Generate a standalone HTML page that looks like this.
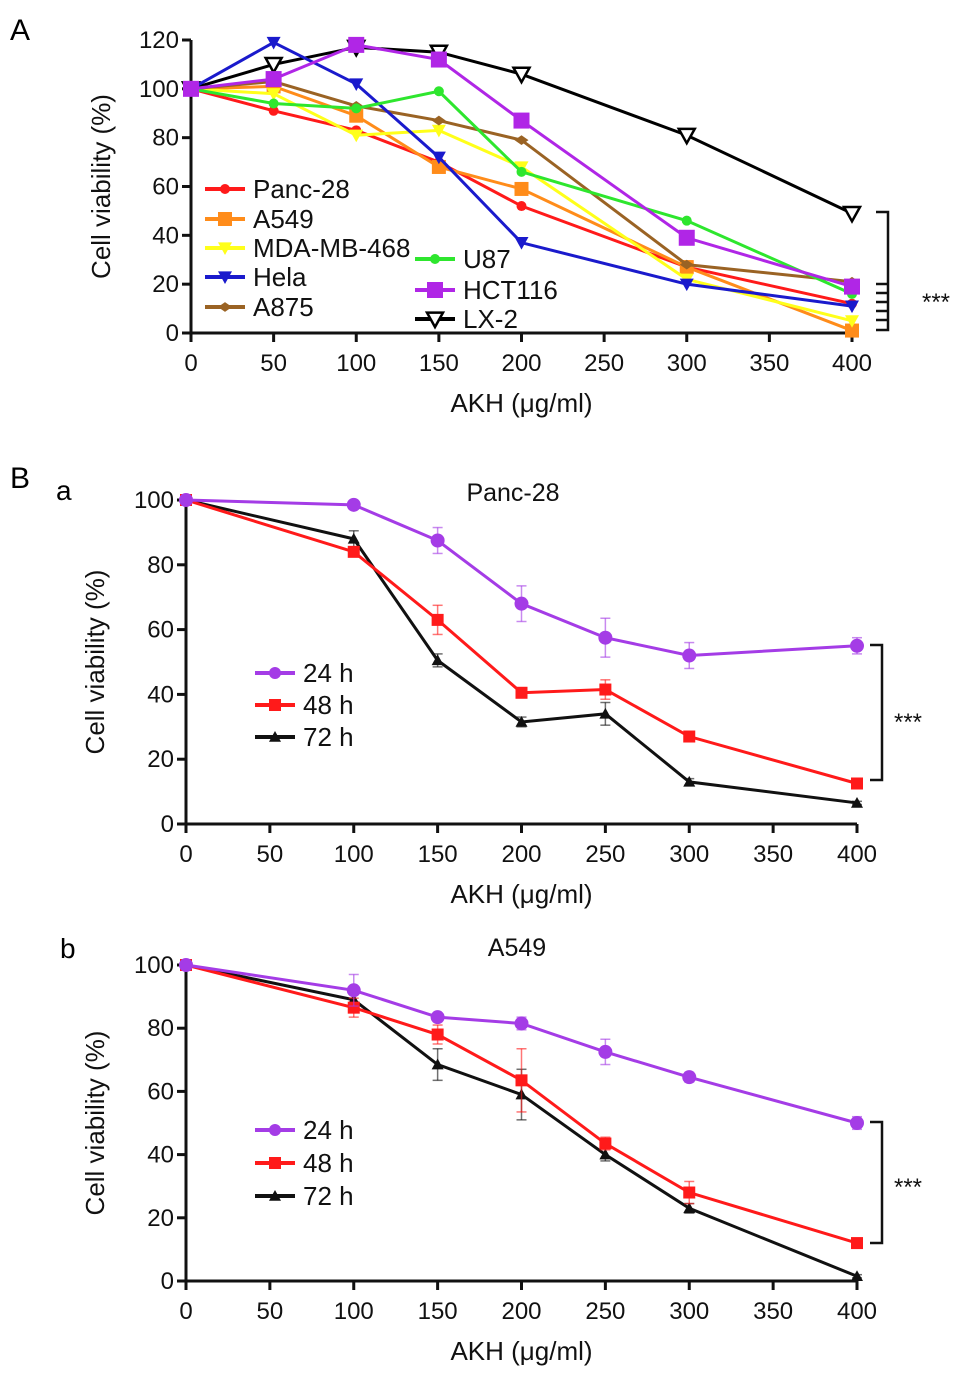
<!DOCTYPE html>
<html><head><meta charset="utf-8">
<style>
body{margin:0;background:#fff;}
svg{display:block;font-family:"Liberation Sans",Arial,sans-serif;}
</style></head>
<body>
<svg id="fig" width="969" height="1388" viewBox="0 0 969 1388" xmlns="http://www.w3.org/2000/svg">
<text x="10" y="40" font-size="30">A</text>
<text x="10" y="488" font-size="30">B</text>
<text x="56" y="500" font-size="28">a</text>
<text x="60" y="958" font-size="28">b</text>
</svg>
<script>
// ---- Panel A data ----
const xA = [0, 50, 100, 150, 200, 300, 400];
const seriesNamesA = ["Panc-28","A549","MDA-MB-468","Hela","A875","U87","HCT116","LX-2"];
const panc28A = [100, 91, 83, 70, 52, 27, 12];
const a549A   = [100, 101, 89, 68, 59, 27, 1];
const mdaA    = [100, 98, 81, 83, 68, 22, 5];
const helaA   = [100, 119, 102, 72, 37, 20, 11];
const a875A   = [100, 103, 93, 87, 79, 28, 21];
const u87A    = [100, 94, 92, 99, 66, 46, 16];
const hct116A = [100, 104, 118, 112, 87, 39, 19];
const lx2A    = [100, 110, 117, 115, 106, 81, 49];
const yTicksA = [0, 20, 40, 60, 80, 100, 120];
const xTicks = [0, 50, 100, 150, 200, 250, 300, 350, 400];
// ---- Panel B data ----
const xB = [0, 100, 150, 200, 250, 300, 400];
const timeLabels = ["24 h","48 h","72 h"];
const panc24 = [100, 98.5, 87.5, 68, 57.5, 52, 55];
const panc48 = [100, 84, 63, 40.5, 41.5, 27, 12.5];
const panc72 = [100, 88, 50.5, 31.5, 34, 13, 6.5];
const panc24Err = [0, 1, 4, 5.5, 6, 4, 2.5];
const panc48Err = [0, 1.5, 4.5, 1, 3, 1, 1];
const panc72Err = [0, 2.5, 2, 1.5, 3.5, 1, 0.5];
const a549_24 = [100, 92, 83.5, 81.5, 72.5, 64.5, 50];
const a549_48 = [100, 86.5, 78, 63.5, 43.5, 28, 12];
const a549_72 = [100, 89, 68.5, 59, 40, 23, 1.5];
const a549_24Err = [0, 5, 1, 2, 4, 1.5, 2];
const a549_48Err = [0, 3, 3, 10, 2, 3.5, 1];
const a549_72Err = [0, 2.5, 5, 8, 2, 1.5, 0.5];
const yTicksB = [0, 20, 40, 60, 80, 100];

const NS = "http://www.w3.org/2000/svg";
const svg = document.getElementById("fig");
function el(tag, attrs, parent){
  const e = document.createElementNS(NS, tag);
  for (const k in attrs) e.setAttribute(k, attrs[k]);
  (parent||svg).appendChild(e);
  return e;
}
function marker(g, shape, cx, cy, color, s){
  let m;
  if (shape==="circle") m = el("circle",{cx:cx,cy:cy,r:s,fill:color},g);
  else if (shape==="square") m = el("rect",{x:cx-s,y:cy-s,width:2*s,height:2*s,fill:color},g);
  else if (shape==="tridown") m = el("polygon",{points:`${cx-s},${cy-s*0.8} ${cx+s},${cy-s*0.8} ${cx},${cy+s}`,fill:color},g);
  else if (shape==="triup") m = el("polygon",{points:`${cx-s},${cy+s*0.8} ${cx+s},${cy+s*0.8} ${cx},${cy-s}`,fill:color},g);
  else if (shape==="diamond") m = el("polygon",{points:`${cx-s},${cy} ${cx},${cy-s*0.7} ${cx+s},${cy} ${cx},${cy+s*0.7}`,fill:color},g);
  else if (shape==="opentri") m = el("polygon",{points:`${cx-s},${cy-s*0.8} ${cx+s},${cy-s*0.8} ${cx},${cy+s}`,fill:"#fff",stroke:color,"stroke-width":2.5},g);
  return m;
}
function axes(cfg){
  const g = el("g",{});
  
  
  el("line",{x1:cfg.x0,y1:cfg.sy(cfg.yMax),x2:cfg.x0,y2:cfg.sy(0)+2,stroke:"#111","stroke-width":3},g);
  el("line",{x1:cfg.x0-2,y1:cfg.sy(0),x2:cfg.sx(400),y2:cfg.sy(0),stroke:"#111","stroke-width":3},g);
  cfg.yTicks.forEach(v=>{
    el("line",{x1:cfg.x0-9,y1:cfg.sy(v),x2:cfg.x0,y2:cfg.sy(v),stroke:"#111","stroke-width":3},g);
    const t = el("text",{x:cfg.x0-12,y:cfg.sy(v)+8,"font-size":24,"text-anchor":"end",fill:"#111"},g);
    t.textContent = v;
    
    
  });
  xTicks.forEach(v=>{
    el("line",{x1:cfg.sx(v),y1:cfg.sy(0),x2:cfg.sx(v),y2:cfg.sy(0)+9,stroke:"#111","stroke-width":3},g);
    const t = el("text",{x:cfg.sx(v),y:cfg.sy(0)+38,"font-size":24,"text-anchor":"middle",fill:"#111"},g);
    t.textContent = v;
    
    
  });
  const xt = el("text",{x:(cfg.x0+cfg.sx(400))/2,y:cfg.sy(0)+79,"font-size":26,"text-anchor":"middle",fill:"#111"},g);
  xt.textContent = "AKH (μg/ml)";
  
  
  const cy = (cfg.sy(cfg.yMax)+cfg.sy(0))/2;
  const yt = el("text",{x:0,y:0,"font-size":26,"text-anchor":"middle",fill:"#111",transform:`translate(${cfg.yTitleX},${cy}) rotate(-90)`},g);
  yt.textContent = "Cell viability (%)";
  
  
}
function series(cfg, xs, ys, errs, color, shape, size, name, lw){
  const g = el("g",{});
  
  
  if (errs) xs.forEach((x,i)=>{
    if (!errs[i]) return;
    const px = cfg.sx(x);
    el("line",{x1:px,y1:cfg.sy(ys[i]+errs[i]),x2:px,y2:cfg.sy(ys[i]-errs[i]),stroke:color,"stroke-width":1.5,opacity:0.6},g);
    el("line",{x1:px-5,y1:cfg.sy(ys[i]+errs[i]),x2:px+5,y2:cfg.sy(ys[i]+errs[i]),stroke:color,"stroke-width":1.5,opacity:0.6},g);
    el("line",{x1:px-5,y1:cfg.sy(ys[i]-errs[i]),x2:px+5,y2:cfg.sy(ys[i]-errs[i]),stroke:color,"stroke-width":1.5,opacity:0.6},g);
  });
  el("polyline",{points:xs.map((x,i)=>cfg.sx(x)+","+cfg.sy(ys[i])).join(" "),fill:"none",stroke:color,"stroke-width":lw||3},g);
  xs.forEach((x,i)=>{
    const m = marker(g, shape, cfg.sx(x), cfg.sy(ys[i]), color, size);
    
    
  });
}
function legendEntry(x, y, color, shape, size, label, name){
  const g = el("g",{});
  
  
  el("line",{x1:x,y1:y,x2:x+40,y2:y,stroke:color,"stroke-width":4},g);
  marker(g, shape, x+20, y, color, size);
  const t = el("text",{x:x+48,y:y+9,"font-size":26,fill:"#111"},g);
  t.textContent = label;
}
function bracket(x, yTop, yBot, lines, starsX, starsY, name){
  const g = el("g",{});
  
  
  el("polyline",{points:`${x-12},${yTop} ${x},${yTop} ${x},${yBot} ${x-12},${yBot}`,fill:"none",stroke:"#111","stroke-width":2.5},g);
  (lines||[]).forEach(yy=>el("line",{x1:x-12,y1:yy,x2:x,y2:yy,stroke:"#111","stroke-width":2.5},g));
  const t = el("text",{x:starsX,y:starsY,"font-size":24,fill:"#111"},g);
  t.textContent = "***";
}

// Panel A
const cA = {name:"panel-a",x0:191,yMax:120,yTicks:yTicksA,yTitleX:110,
  sx:v=>191+v*(852-191)/400, sy:v=>333-v*(333-40)/120};
axes(cA);
const colorsA = ["#ff1a1a","#ff8c1a","#ffff1a","#1a1acc","#9a6324","#2ee62e","#b026e6","#000"];
const shapesA = ["circle","square","tridown","tridown","diamond","circle","square","opentri"];
const sizesA = [5,7,7,7,7,5,8,8];
const dataA = [panc28A,a549A,mdaA,helaA,a875A,u87A,hct116A,lx2A];
const orderA = [7,0,1,2,4,3,5,6];
orderA.forEach(i=>series(cA, xA, dataA[i], null, colorsA[i], shapesA[i], sizesA[i], "series-"+seriesNamesA[i].toLowerCase(), 3));
const legA = [[205,189],[205,219],[205,248],[205,277],[205,307],[415,259],[415,290],[415,319]];
seriesNamesA.forEach((n,i)=>legendEntry(legA[i][0],legA[i][1],colorsA[i],shapesA[i],sizesA[i],n,"legend-"+n.toLowerCase()));
bracket(888, 212, 330, [284,293,302,311,320], 922, 310, "significance-bracket-a");

// Panel Ba
const colorsB = ["#a43ce6","#ff1a1a","#111"];
const shapesB = ["circle","square","triup"];
const cBa = {name:"panel-ba",x0:186,yMax:100,yTicks:yTicksB,yTitleX:104,
  sx:v=>186+v*(857-186)/400, sy:v=>824-v*(824-500)/100};
axes(cBa);
const tA = el("text",{x:513,y:501,"font-size":25,"text-anchor":"middle",fill:"#111"});
tA.textContent = "Panc-28";


series(cBa, xB, panc72, panc72Err, colorsB[2], shapesB[2], 6, "series-panc28-72h", 3);
series(cBa, xB, panc48, panc48Err, colorsB[1], shapesB[1], 6, "series-panc28-48h", 3);
series(cBa, xB, panc24, panc24Err, colorsB[0], shapesB[0], 7, "series-panc28-24h", 3);
timeLabels.forEach((n,i)=>legendEntry(255,673+i*32,colorsB[i],shapesB[i],6,n,"legend-panc28-"+n.replace(" ","")));
bracket(882, 645, 780, null, 894, 730, "significance-bracket-ba");

// Panel Bb
const cBb = {name:"panel-bb",x0:186,yMax:100,yTicks:yTicksB,yTitleX:104,
  sx:v=>186+v*(857-186)/400, sy:v=>1281-v*(1281-965)/100};
axes(cBb);
const tB = el("text",{x:517,y:956,"font-size":25,"text-anchor":"middle",fill:"#111"});
tB.textContent = "A549";


series(cBb, xB, a549_72, a549_72Err, colorsB[2], shapesB[2], 6, "series-a549-72h", 3);
series(cBb, xB, a549_48, a549_48Err, colorsB[1], shapesB[1], 6, "series-a549-48h", 3);
series(cBb, xB, a549_24, a549_24Err, colorsB[0], shapesB[0], 7, "series-a549-24h", 3);
timeLabels.forEach((n,i)=>legendEntry(255,1130+i*33,colorsB[i],shapesB[i],6,n,"legend-a549-"+n.replace(" ","")));
bracket(882, 1122, 1243, null, 894, 1195, "significance-bracket-bb");
</script>
</body></html>
